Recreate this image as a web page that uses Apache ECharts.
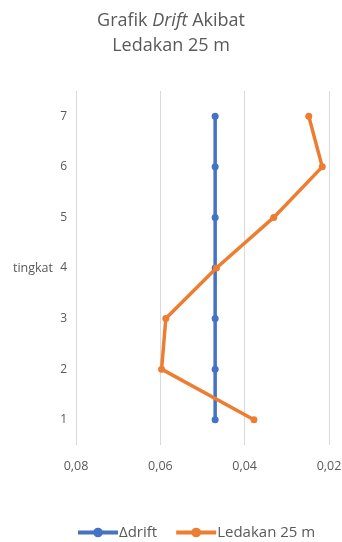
<!DOCTYPE html>
<html>
<head>
<meta charset="utf-8">
<script src="https://cdn.jsdelivr.net/npm/echarts@6/dist/echarts.min.js"></script>
<style>
  html, body { margin: 0; padding: 0; background: #fff; }
  #chart { width: 342px; height: 542px; }
</style>
</head>
<body>
<div id="chart"></div>
<script>
// Floor levels (tingkat), bottom to top
const floors = ['1', '2', '3', '4', '5', '6', '7'];
// Allowable drift limit per floor
const deltaDrift = [0.047, 0.047, 0.047, 0.047, 0.047, 0.047, 0.047];
// Drift from the 25 m blast
const ledakan25 = [0.0378, 0.0597, 0.0587, 0.0467, 0.0331, 0.0216, 0.0248];
// Horizontal axis ticks
const xTicks = [0.02, 0.04, 0.06, 0.08];

const seriesNames = ['\u0394drift', 'Ledakan 25 m'];
const textColor = '#595959';
const fontFamily = '"Open Sans", "Noto Sans", sans-serif';

const toPairs = vals => vals.map((v, i) => [v, floors[i]]);

const chart = echarts.init(document.getElementById('chart'));
chart.setOption({
  animation: false,
  textStyle: { fontFamily: fontFamily },
  title: {
    text: '{n|Grafik }{i|Drift}{n| Akibat}\n{n|Ledakan 25 m}',
    left: 'center',
    top: 3,
    textStyle: {
      fontWeight: 'normal',
      rich: {
        n: { fontSize: 18, color: textColor, fontFamily: fontFamily, fontWeight: 'normal', lineHeight: 25 },
        i: { fontSize: 18, color: textColor, fontFamily: fontFamily, fontWeight: 'normal', fontStyle: 'italic', lineHeight: 25 }
      }
    }
  },
  grid: { left: 76, right: 13, top: 91, bottom: 97, containLabel: false, outerBoundsMode: 'none' },
  xAxis: {
    type: 'value',
    inverse: true,
    min: xTicks[0],
    max: xTicks[xTicks.length - 1],
    interval: 0.02,
    axisLine: { show: false },
    axisTick: { show: false },
    splitLine: { show: true, lineStyle: { color: '#d9d9d9', width: 1 } },
    axisLabel: {
      color: textColor,
      fontSize: 12.5,
      margin: 15,
      formatter: v => v.toFixed(2).replace('.', ',')
    }
  },
  yAxis: {
    type: 'category',
    data: floors,
    boundaryGap: true,
    name: 'tingkat',
    nameLocation: 'middle',
    nameRotate: 0,
    nameGap: 23,
    nameTextStyle: { color: textColor, fontSize: 12.5 },
    axisLine: { show: false },
    axisTick: { show: false },
    splitLine: { show: false },
    axisLabel: { color: textColor, fontSize: 12, margin: 9 }
  },
  legend: {
    top: 520,
    left: 71,
    itemWidth: 40,
    itemHeight: 12,
    itemGap: 17,
    lineStyle: { width: 4 },
    textStyle: { color: textColor, fontSize: 15, padding: [0, 0, 0, -4] },
    data: seriesNames
  },
  series: [
    {
      name: seriesNames[0],
      type: 'line',
      data: toPairs(deltaDrift),
      symbol: 'circle',
      symbolSize: 7,
      color: '#4472C4',
      lineStyle: { width: 3.5, color: '#4472C4' },
      itemStyle: { color: '#4472C4' },
      z: 2
    },
    {
      name: seriesNames[1],
      type: 'line',
      data: toPairs(ledakan25),
      symbol: 'circle',
      symbolSize: 7,
      color: '#ED7D31',
      lineStyle: { width: 3.5, color: '#ED7D31' },
      itemStyle: { color: '#ED7D31' },
      z: 3
    }
  ]
});
</script>
</body>
</html>
